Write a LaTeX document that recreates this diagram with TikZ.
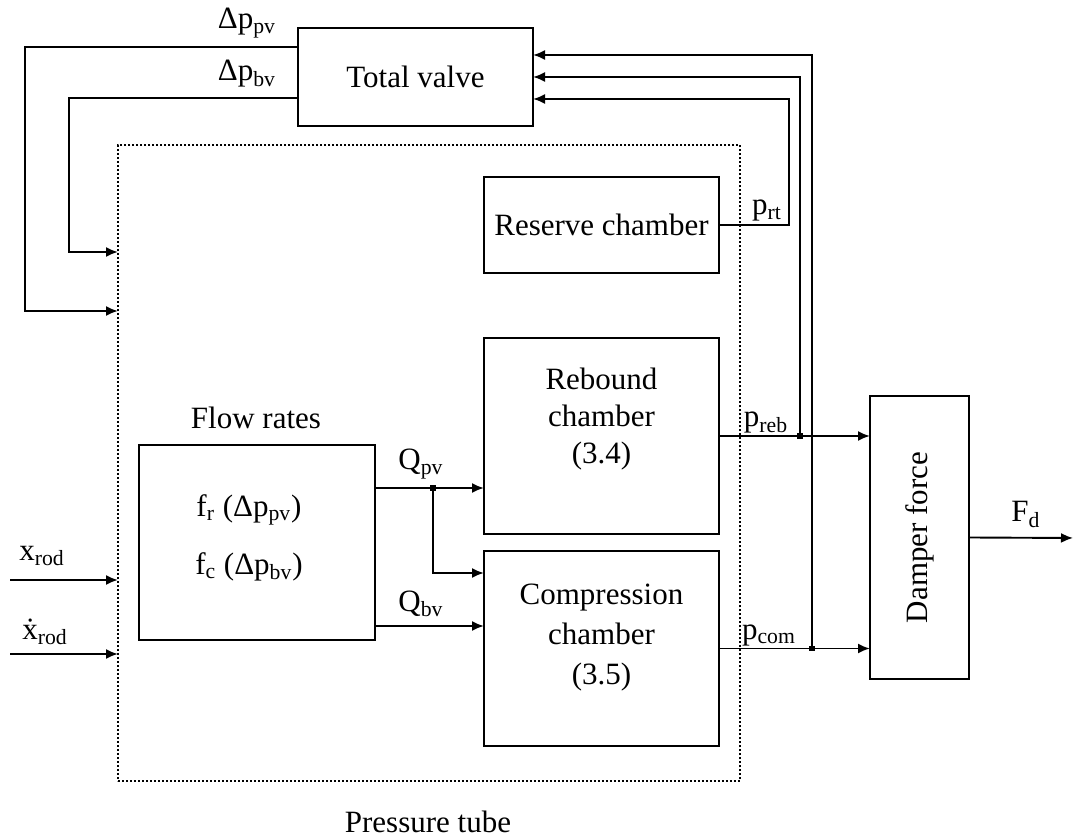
\documentclass[tikz,border=0pt]{standalone}
\usepackage{fontspec}
\setmainfont{Liberation Serif}
\usetikzlibrary{arrows.meta}
\begin{document}
\begin{tikzpicture}[x=0.5pt,y=-0.5pt,
  every node/.style={font=\fontsize{15.5}{18}\selectfont, inner sep=0pt, outer sep=0pt},
  box/.style={draw, line width=1pt},
  tubebox/.style={draw, line width=0.9pt, dash pattern=on 0.9pt off 1.1pt},
  arr/.style={line width=0.95pt, -{Latex[length=6pt,width=5pt]}},
  jn/.style={fill=black}]
\useasboundingbox (0,0) rectangle (1073,839);

% blocks
\node[box, minimum width=117.5pt, minimum height=49pt] (tv) at (415.5,77) {Total valve};
\node[box, minimum width=117.5pt, minimum height=48pt] (res) at (601.5,225) {Reserve chamber};
\node[box, minimum width=117.5pt, minimum height=98pt] (reb) at (601.5,436) {};
\node (rebt) at (601.5,419) [align=center, font=\fontsize{15.5}{18.5}\selectfont] {Rebound\\chamber\\(3.4)};
\node[box, minimum width=117.5pt, minimum height=97.5pt] (com) at (601.5,648.5) {};
\node (comt) at (601.5,638) [align=center, font=\fontsize{15.5}{20}\selectfont] {Compression\\chamber\\(3.5)};
\node[box, minimum width=118pt, minimum height=97.5pt] (flow) at (257,542.5) {};
\node (fr) at (249,510) {f\textsubscript{r} (Δp\textsubscript{pv})};
\node (fc) at (249,567) {f\textsubscript{c} (Δp\textsubscript{bv})};
\node[box, minimum width=49.5pt, minimum height=141.5pt] (damp) at (919.5,537.5) {};
\node[rotate=90] (dampt) at (919.5,537.5) {Damper force};
\node[tubebox, minimum width=311pt, minimum height=318pt] (tube) at (429,463) {};

% labels
\node (lpv) at (247,23) {Δp\textsubscript{pv}};
\node (lbv) at (247,74) {Δp\textsubscript{bv}};
\node (lrt) at (767,211) {p\textsubscript{rt}};
\node (lreb) at (766,423) {p\textsubscript{reb}};
\node (lcom) at (769,635) {p\textsubscript{com}};
\node (lqpv) at (421,464) {Q\textsubscript{pv}};
\node (lqbv) at (421,604) {Q\textsubscript{bv}};
\node (lx) at (42,556) {x\textsubscript{rod}};
\node (lxd) at (45,632) {\.{x}\textsubscript{rod}};
\node[anchor=base] (lfd) at (1026,522) {F\textsubscript{d}};
\node (lflow) at (256,418) {Flow rates};
\node[anchor=base] (ltube) at (428,833) {Pressure tube};

% coordinates
\coordinate (pvL) at (25,47);
\coordinate (pvB) at (25,311);
\coordinate (bvL) at (69,98);
\coordinate (bvB) at (69,252);
\coordinate (rtc) at (789,99);
\coordinate (rebtop) at (800,77);
\coordinate (comtop) at (812,55);
\coordinate (qpv) at (433,488);
\coordinate (qbr) at (433,573);
\coordinate (qbv) at (433,626);
\coordinate (xin) at (10,580);
\coordinate (xdin) at (10,654);
\coordinate (fout) at (1073,538);

% feedback from total valve
\draw[arr] (tv.west |- pvL) -- (pvL) -- (pvB) -- (tube.west |- pvB);
\draw[arr] (tv.west |- bvL) -- (bvL) -- (bvB) -- (tube.west |- bvB);

% pressures to total valve
\draw[arr] (res.east) -| (rtc) -- (tv.east |- rtc);
\draw[arr] (rebtop |- reb.east) -- (rebtop) -- (tv.east |- rebtop);
\draw[arr] (comtop |- com.east) -- (comtop) -- (tv.east |- comtop);

% pressures to damper
\draw[arr] (reb.east) -- (damp.west |- reb.east);
\draw[arr] (com.east) -- (damp.west |- com.east);
\fill[jn] (rebtop |- reb.east) ++(-2.8,-2.8) rectangle ++(5.6,5.6);
\fill[jn] (comtop |- com.east) ++(-2.8,-2.8) rectangle ++(5.6,5.6);

% flows
\draw[arr] (flow.east |- qpv) -- (reb.west |- qpv);
\draw[arr] (qpv) -- (qbr) -- (com.west |- qbr);
\draw[arr] (flow.east |- qbv) -- (com.west |- qbv);
\fill[jn] (qpv) ++(-2.8,-2.8) rectangle ++(5.6,5.6);

% inputs and output
\draw[arr] (xin) -- (tube.west |- xin);
\draw[arr] (xdin) -- (tube.west |- xdin);
\draw[arr] (damp.east) -- (fout);
\end{tikzpicture}
\end{document}
